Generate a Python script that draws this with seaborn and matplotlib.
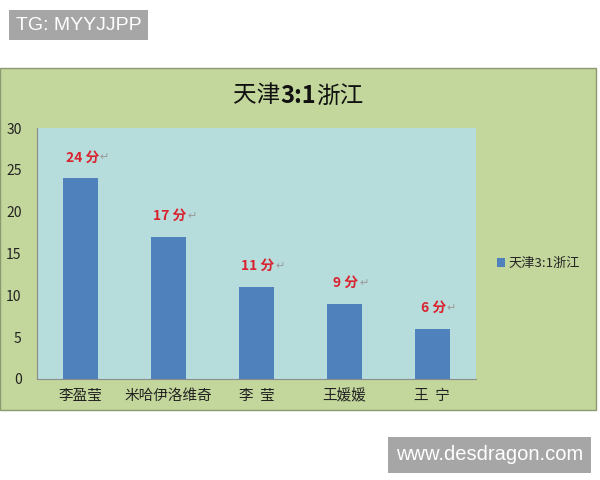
import matplotlib
matplotlib.use("Agg")
import matplotlib.pyplot as plt
import seaborn as sns
import pandas as pd
from matplotlib.patches import Rectangle

players = ["李盈莹", "米哈伊洛维奇", "李  莹", "王媛媛", "王  宁"]
points = [24, 17, 11, 9, 6]
point_labels = ["24 分", "17 分", "11 分", "9 分", "6 分"]
series_name = "天津3:1浙江"
title_parts = [("天津", "normal"), ("3:1", "bold"), ("浙江", "normal")]
yticks = [0, 5, 10, 15, 20, 25, 30]

sns.set_style("white")
plt.rcParams['font.family'] = ['Noto Sans CJK SC', 'DejaVu Sans']

fig = plt.figure(figsize=(6, 4.8), dpi=100)
fig.patch.set_facecolor("white")

# panel background
panel = Rectangle((0, 70/480), 596/600, (410-68)/480, transform=fig.transFigure,
                  facecolor="#c3d69b", edgecolor="#8c9a72", linewidth=1, zorder=-10)
fig.patches.append(panel)

ax = fig.add_axes([37/600, (480-379)/480, 439/600, (379-128)/480])
ax.set_facecolor("#b7dcdc")

df = pd.DataFrame({"player": players, "points": points})
sns.barplot(data=df, x="player", y="points", color="#4f81bd", saturation=1,
            width=0.4, ax=ax, label=series_name, linewidth=0)

ax.set_ylim(0, 30)
ax.set_xlim(-0.5, len(players) - 0.5)
ax.set_yticks(yticks)
ax.set_yticklabels([str(v) for v in yticks], fontsize=10, color="#222222")
ax.set_xlabel("")
ax.set_ylabel("")
ax.tick_params(axis='x', length=0, labelsize=10.5, colors="#222222", pad=7)
ax.set_xticks(range(len(players)))
ax.set_xticklabels(players)
ax.set_xticks([i - 0.5 for i in range(len(players) + 1)], minor=True)
ax.tick_params(axis='x', which='minor', length=4, color="#8c8c8c", direction='out')
ax.tick_params(axis='y', length=4, color="#8c8c8c", direction='out', pad=7)
for s in ["top", "right"]:
    ax.spines[s].set_visible(False)
for s in ["left", "bottom"]:
    ax.spines[s].set_color("#8c8c8c")
    ax.spines[s].set_linewidth(0.8)

for i, (v, lab) in enumerate(zip(points, point_labels)):
    ax.annotate(lab, xy=(i, v), xytext=(1, 15), textcoords="offset points",
                ha="center", va="center", fontsize=10, fontweight="bold",
                color="#d9232f")
    ax.annotate("↵", xy=(i, v), xytext=(17 if len(lab) > 3 else 14, 15),
                textcoords="offset points", ha="center", va="center",
                fontsize=8, color="#9a9a9a")

# title, CJK regular with bold score
renderer = fig.canvas.get_renderer()
texts = []
for s, w in title_parts:
    t = fig.text(0, 1 - 96/480, s, ha="left", va="center", fontsize=17,
                 fontweight=w, color="#111111")
    texts.append(t)
widths = [t.get_window_extent(renderer).width for t in texts]
x = 298 - sum(widths) / 2
for t, wd in zip(texts, widths):
    t.set_x(x / 600)
    x += wd

leg = ax.legend(loc="center left", bbox_to_anchor=(1.02, 0.46), frameon=False,
                fontsize=9.5, handlelength=0.6, handleheight=0.6, handletextpad=0.3)

# watermark boxes
fig.text(16/600, 1 - 25/480, "TG: MYYJJPP", ha="left", va="center", fontsize=14,
         color="white", family="Liberation Sans",
         bbox=dict(boxstyle="square,pad=0.35", facecolor="#a6a6a6", edgecolor="none"))
fig.text(396/600, 1 - 455/480, "www.desdragon.com", ha="left", va="center",
         fontsize=14.5, color="white", family="Liberation Sans",
         bbox=dict(boxstyle="square,pad=0.4", facecolor="#a6a6a6", edgecolor="none"))

fig.savefig("out.png", dpi=100)
